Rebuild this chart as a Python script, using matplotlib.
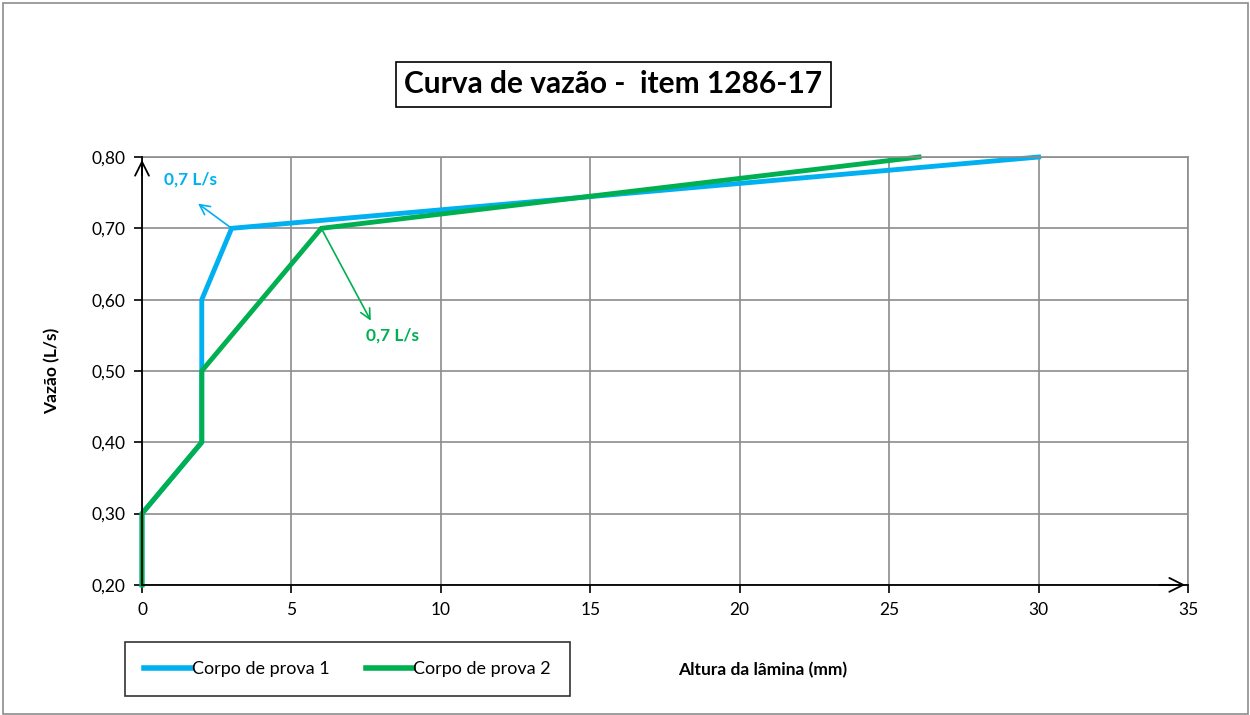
import matplotlib.pyplot as plt
from matplotlib.patches import Rectangle

plt.rcParams['font.family'] = ['Lato', 'DejaVu Sans']

# Data
altura_1 = [0, 0, 2, 2, 2, 3, 30]
vazao_1 = [0.20, 0.30, 0.40, 0.50, 0.60, 0.70, 0.80]
altura_2 = [0, 0, 2, 2, 6, 26]
vazao_2 = [0.20, 0.30, 0.40, 0.50, 0.70, 0.80]

x_ticks = [0, 5, 10, 15, 20, 25, 30, 35]
y_ticks = [0.20, 0.30, 0.40, 0.50, 0.60, 0.70, 0.80]

azul = '#00B0F0'
verde = '#00B050'

fig = plt.figure(figsize=(12.5, 7.15), dpi=100)
ax = fig.add_axes([0.1136, 0.182, 0.8368, 0.5984])

# Grid
ax.grid(True, color='#8c8c8c', linewidth=1.2)
ax.set_axisbelow(True)

l1, = ax.plot(altura_1, vazao_1, color=azul, lw=3.5, label='Corpo de prova 1',
              solid_joinstyle='miter', clip_on=False)
l2, = ax.plot(altura_2, vazao_2, color=verde, lw=3.5, label='Corpo de prova 2',
              solid_joinstyle='miter', clip_on=False)

ax.set_xlim(0, 35)
ax.set_ylim(0.20, 0.80)
ax.set_xticks(x_ticks)
ax.set_yticks(y_ticks)
ax.set_yticklabels([f'{v:.2f}'.replace('.', ',') for v in y_ticks])
ax.tick_params(axis='both', labelsize=12.5, direction='out', length=6, width=1.2,
               color='black', pad=6)

for s in ['top', 'right']:
    ax.spines[s].set_color('#8c8c8c')
    ax.spines[s].set_linewidth(1.2)
for s in ['left', 'bottom']:
    ax.spines[s].set_color('black')
    ax.spines[s].set_linewidth(1.3)
    ax.spines[s].set_zorder(3)

# Arrow heads at axis ends
ax.annotate('', xy=(0, 1.0), xytext=(0, 0.95), xycoords='axes fraction',
            arrowprops=dict(arrowstyle='->', color='black', lw=1.3,
                            mutation_scale=25))
ax.annotate('', xy=(1.0, 0), xytext=(0.97, 0), xycoords='axes fraction',
            arrowprops=dict(arrowstyle='->', color='black', lw=1.3,
                            mutation_scale=25))

# Annotations
ax.annotate('', xy=(1.8, 0.737), xytext=(3.0, 0.70),
            arrowprops=dict(arrowstyle='->', color=azul, lw=1.2, mutation_scale=18))
ax.text(0.75, 0.768, '0,7 L/s', color=azul, fontsize=12.5, fontweight='bold',
        ha='left', va='center')
ax.annotate('', xy=(7.7, 0.567), xytext=(6.0, 0.70),
            arrowprops=dict(arrowstyle='->', color=verde, lw=1.2, mutation_scale=18))
ax.text(7.5, 0.549, '0,7 L/s', color=verde, fontsize=12.5, fontweight='bold',
        ha='left', va='center')

ax.set_ylabel('Vazão (L/s)', fontsize=12.5, fontweight='bold', labelpad=22)
fig.text(0.61, 0.063, 'Altura da lâmina (mm)', fontsize=12.5, fontweight='bold',
         ha='center', va='center')

# Title in a box
fig.text(0.4905, 0.882, 'Curva de vazão -  item 1286-17', fontsize=21.5,
         fontweight='bold', ha='center', va='center',
         bbox=dict(boxstyle='square,pad=0.28', facecolor='white',
                   edgecolor='black', linewidth=1.2))

# Legend
leg = fig.legend(handles=[l1, l2], loc='center', bbox_to_anchor=(0.278, 0.0637),
                 ncol=2, fontsize=13, frameon=True, fancybox=False,
                 edgecolor='black', handlelength=2.6, handletextpad=0.05,
                 columnspacing=2.0, borderpad=1.05, borderaxespad=0)
leg.get_frame().set_linewidth(1.2)
for h in leg.legend_handles:
    h.set_linewidth(4)

# Outer border
fig.patches.append(Rectangle((0.002, 0.002), 0.996, 0.994, transform=fig.transFigure,
                             fill=False, edgecolor='#8c8c8c', linewidth=1.2))

fig.savefig('out.png', dpi=100)
